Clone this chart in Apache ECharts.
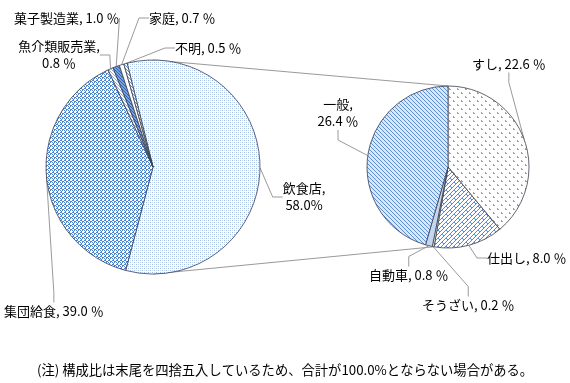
<!DOCTYPE html>
<html><head><meta charset="utf-8">
<script src="https://cdn.jsdelivr.net/npm/echarts@6/dist/echarts.min.js"></script>
<style>html,body{margin:0;padding:0;background:#fff}#c{width:570px;height:383px}</style>
</head><body><div id="c"></div>
<script>
// ---- data ----
const mainNames = ['飲食店', '集団給食', '魚介類販売業', '菓子製造業', '家庭', '不明'];
const mainValues = [58.0, 39.0, 0.8, 1.0, 0.7, 0.5];
const subNames = ['すし', '仕出し', 'そうざい', '自動車', '一般'];
const subValues = [22.6, 8.0, 0.2, 0.8, 26.4];
const pctSigns = { '飲食店': '%' };          // others use full-width ％
const wrapAfterComma = ['魚介類販売業', '飲食店', '一般'];
const footnote = '(注) 構成比は末尾を四捨五入しているため、合計が100.0%とならない場合がある。';

// ---- layout ----
const FONT = '"Noto Sans CJK JP", sans-serif';
const C1 = [153, 167], R1 = 107;
const C2 = [448, 167], R2 = 81;
const labelPos = {
  '菓子製造業': { x: 14, y: 18, align: 'left' },
  '家庭': { x: 149, y: 18, align: 'left' },
  '魚介類販売業': { x: 59, y: 55, align: 'center' },
  '不明': { x: 175, y: 48, align: 'left' },
  '飲食店': { x: 304, y: 197, align: 'center' },
  '集団給食': { x: 4, y: 311, align: 'left' },
  'すし': { x: 472, y: 64, align: 'left' },
  '一般': { x: 338, y: 113, align: 'center' },
  '仕出し': { x: 487, y: 258, align: 'left' },
  '自動車': { x: 369, y: 275, align: 'left' },
  'そうざい': { x: 422, y: 305, align: 'left' }
};

function pattern(w, h, bg, draw) {
  const cv = document.createElement('canvas');
  cv.width = w; cv.height = h;
  const g = cv.getContext('2d');
  g.fillStyle = bg; g.fillRect(0, 0, w, h);
  draw(g);
  return { image: cv, repeat: 'repeat' };
}
function px(g, col, pts) { g.fillStyle = col; pts.forEach(p => g.fillRect(p[0], p[1], 1, 1)); }

const styles = {
  '飲食店': pattern(4, 4, '#ffffff', g => { px(g, '#9fbce6', [[0,0],[2,2]]); px(g, '#cddcf2', [[2,0],[0,2]]); }),
  '集団給食': pattern(4, 4, '#ffffff', g => { px(g, '#4a82d0', [[0,0],[1,0],[2,1],[3,1],[0,2],[1,3],[2,2]]); }),
  '魚介類販売業': pattern(3, 3, '#ffffff', g => { px(g, '#8fb0e0', [[0,0],[1,1],[2,2]]); }),
  '菓子製造業': pattern(3, 3, '#7aa2dc', g => { px(g, '#2f65b8', [[0,0],[1,1],[2,2]]); }),
  '家庭': '#ffffff',
  '不明': pattern(3, 3, '#ffffff', g => { px(g, '#6f98d6', [[0,0],[1,1],[2,2]]); }),
  'すし': pattern(8, 8, '#ffffff', g => { px(g, '#7aa6e2', [[1,0],[1,1],[2,1],[5,4],[5,5],[6,5]]); }),
  '仕出し': pattern(8, 8, '#ffffff', g => {
    g.strokeStyle = '#5a8cd4'; g.lineWidth = 1;
    g.beginPath(); g.moveTo(0, 8); g.lineTo(8, 0); g.stroke();
    g.beginPath(); g.moveTo(-4, 8); g.lineTo(4, 0); g.stroke();
    g.beginPath(); g.moveTo(4, 8); g.lineTo(12, 0); g.stroke();
    g.beginPath(); g.moveTo(2, 2); g.lineTo(4, 4); g.stroke();
    g.beginPath(); g.moveTo(6, 6); g.lineTo(8, 8); g.stroke();
  }),
  'そうざい': '#ffffff',
  '自動車': '#c4d7f0',
  '一般': pattern(4, 4, '#dce7f6', g => { px(g, '#5b8fd6', [[0,0],[1,1],[2,2],[3,3]]); })
};

function mkData(names, values) {
  return names.map((n, i) => ({ name: n, value: values[i], itemStyle: { color: styles[n] } }));
}
function fmt(p) {
  const sign = pctSigns[p.name] || ' ％';
  const sep = wrapAfterComma.indexOf(p.name) >= 0 ? ',\n' : ', ';
  return p.name + sep + p.value.toFixed(1) + sign;
}
function layoutFn(series) {
  return function (params) {
    const n = (series === 0 ? mainNames : subNames)[params.dataIndex];
    const pos = labelPos[n];
    return { x: pos.x, y: pos.y, align: pos.align, verticalAlign: 'middle' };
  };
}
const labelCommon = {
  show: true, formatter: fmt, color: '#000', fontFamily: FONT, fontSize: 13, lineHeight: 17
};
const labelLineCommon = { show: true, lineStyle: { color: '#9a9a9a', width: 1 }, length: 10, length2: 10 };
const itemCommon = { borderColor: '#3a3f4a', borderWidth: 0.8 };

function deg(a) { return a * Math.PI / 180; }
const topMain = [C1[0], C1[1] - R1];
const botMain = [C1[0], C1[1] + R1];
const topSub = [C2[0], C2[1] - R2];
const botSub = [C2[0] - R2 * Math.sin(deg(10)), C2[1] + R2 * Math.cos(deg(10))];

const chart = echarts.init(document.getElementById('c'), null, { renderer: 'canvas' });
chart.setOption({
  animation: false,
  backgroundColor: '#fff',
  title: {
    text: footnote, left: 'center', top: 358,
    textStyle: { fontFamily: FONT, fontSize: 13.3, fontWeight: 'normal', color: '#000' }
  },
  graphic: [
    { type: 'line', z: 0, shape: { x1: topMain[0], y1: topMain[1], x2: topSub[0], y2: topSub[1] }, style: { stroke: '#9a9a9a', lineWidth: 1 } },
    { type: 'line', z: 0, shape: { x1: botMain[0], y1: botMain[1], x2: botSub[0], y2: botSub[1] }, style: { stroke: '#9a9a9a', lineWidth: 1 } }
  ],
  series: [
    {
      type: 'pie', z: 2, center: C1, radius: R1, startAngle: 104, clockwise: true,
      avoidLabelOverlap: false, data: mkData(mainNames, mainValues),
      itemStyle: itemCommon, label: labelCommon, labelLine: labelLineCommon,
      labelLayout: layoutFn(0), emphasis: { disabled: true }
    },
    {
      type: 'pie', z: 2, center: C2, radius: R2, startAngle: 90, clockwise: true,
      avoidLabelOverlap: false, data: mkData(subNames, subValues),
      itemStyle: itemCommon, label: labelCommon, labelLine: labelLineCommon,
      labelLayout: layoutFn(1), emphasis: { disabled: true }
    }
  ]
});
</script></body></html>
